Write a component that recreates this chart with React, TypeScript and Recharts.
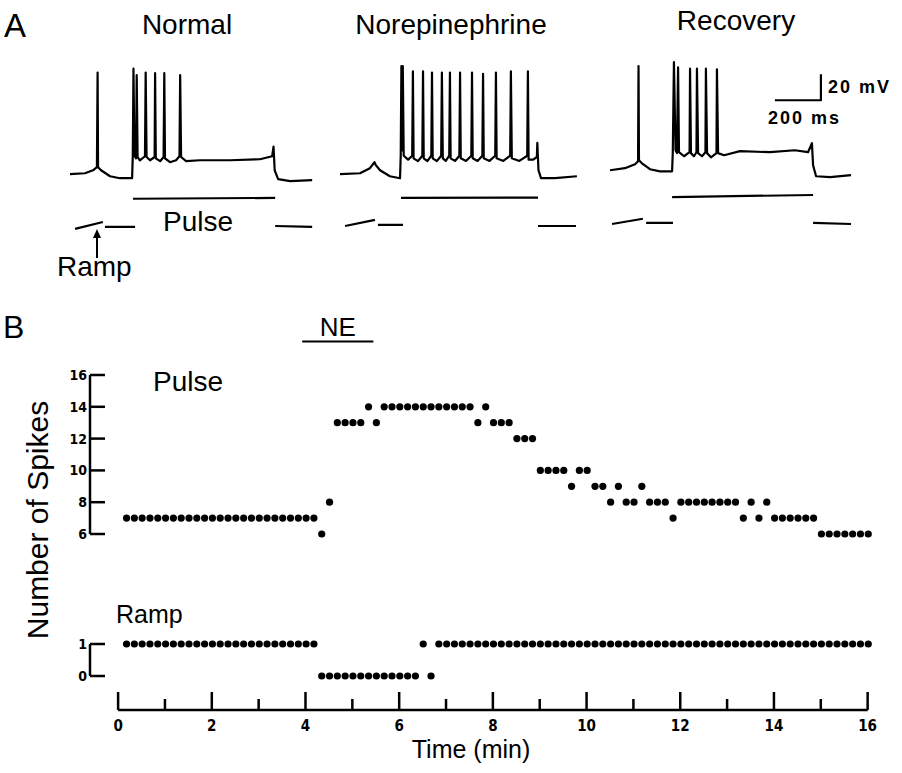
import React from 'react';
import { Line, LineChart, ReferenceLine, Scatter, ScatterChart, XAxis, YAxis } from 'recharts';

const SANS = "'Liberation Sans', Arial, Helvetica, sans-serif";
const NARROW = "'Liberation Sans Narrow', 'DejaVu Sans Condensed', 'Liberation Sans', sans-serif";

// ---- Panel A: intracellular records (t in ms, membrane potential in mV rel. rest, stimulus in nA)
type Pt = [number, number | null];

const normalVm: Pt[] = [
  [0, 0.8], [65, 1.5], [100, 3.8], [117, 6.2], [120, 79], [122, 6.2], [135, 3.8], [174, -0.8], [217, -2.3],
  [270, -2.3], [273, 15], [276, 82], [280, 15], [287, 13], [290, 77], [294, 14], [304, 11.5], [326, 14.6],
  [329, 79], [333, 14], [348, 11.5], [368, 14], [370, 78.5], [373, 13], [392, 10.8], [407, 14], [410, 78.5],
  [413, 13], [435, 10], [461, 11.5], [476, 14.6], [479, 77], [483, 14], [505, 10.8], [565, 11.5], [696, 11.5],
  [826, 12.3], [879, 14.6], [885, 22], [890, 3.8], [905, -3], [957, -4.6], [1053, -3.8],
];
const normalStim: Pt[] = [
  [22, -0.07], [143, 0.17], [148, null], [152, 0], [283, 0], [283, null],
  [274, 0.97], [892, 1.0], [892, null], [892, 0.03], [1053, 0],
];

const neVm: Pt[] = [
  [0, 0.8], [87, 1.5], [130, 5.4], [150, 10], [155, 8], [174, 3.8], [217, -0.8], [261, -2.3], [264, 15],
  [267, 84], [270, 19], [273, 84], [277, 15], [296, 12], [314, 15], [317, 80], [320, 13], [339, 10.8],
  [358, 15], [361, 80], [364, 13], [380, 10.8], [397, 15], [400, 79], [403, 13], [421, 10.8], [440, 15],
  [443, 79], [447, 13], [460, 11], [475, 15], [478, 79], [481, 13], [500, 11], [519, 15], [522, 79],
  [525, 13], [548, 11], [571, 15], [574, 79], [577, 13], [598, 11], [619, 15], [622, 78], [625, 13],
  [650, 11], [675, 15], [678, 79], [681, 13], [710, 11], [740, 15], [743, 80], [747, 13], [780, 11],
  [814, 15], [817, 80], [820, 12], [840, 12], [856, 14], [858, 25], [863, 3.8], [874, -2.3], [935, -2.3],
  [1030, -0.8],
];
const neStim: Pt[] = [
  [22, 0.03], [152, 0.24], [160, null], [165, 0.07], [274, 0.07], [274, null],
  [265, 1.0], [861, 1.01], [861, null], [861, 0.03], [1026, 0.03],
];

const recoveryVm: Pt[] = [
  [0, 3.8], [65, 5.4], [109, 8.5], [122, 10.8], [124, 84], [126, 11.5], [139, 9.2], [174, 4.6], [217, 3],
  [270, 3], [273, 17.7], [278, 87], [285, 19.2], [291, 17], [296, 83], [300, 17.7], [322, 14.6], [346, 17.7],
  [348, 82], [352, 17], [365, 14.6], [376, 17.7], [378, 82], [383, 17], [400, 14.6], [415, 17.7], [417, 82],
  [422, 17], [439, 13.8], [463, 17], [465, 81.5], [470, 17], [496, 15.4], [565, 18.5], [696, 17.7],
  [804, 19.2], [861, 17.7], [878, 24.6], [883, 7.7], [896, -0.8], [957, -1.5], [1048, 0],
];
const recoveryStim: Pt[] = [
  [9, 0.1], [143, 0.28], [150, null], [157, 0.14], [274, 0.14], [274, null],
  [270, 1.03], [883, 1.1], [883, null], [883, 0.14], [1048, 0.1],
];

// 200 ms / 20 mV calibration
const scaleBar: Pt[] = [[717, 57.7], [917, 57.7], [917, 77.7]];

const SWEEP_T_DOMAIN: [number, number] = [0, 1087];
const VM_DOMAIN: [number, number] = [-46, 92.5];
const STIM_DOMAIN: [number, number] = [-0.28, 5.93];

// ---- Panel B: spikes per 10-s sweep
const pulseSpikes = [
  7, 7, 7, 7, 7, 7, 7, 7, 7, 7, 7, 7, 7, 7, 7, 7, 7, 7, 7, 7, 7, 7, 7, 7, 7,
  6, 8, 13, 13, 13, 13, 14, 13, 14, 14, 14, 14, 14, 14, 14, 14, 14, 14, 14, 14,
  13, 14, 13, 13, 13, 12, 12, 12, 10, 10, 10, 10, 9, 10, 10, 9, 9, 8, 9, 8, 8, 9,
  8, 8, 8, 7, 8, 8, 8, 8, 8, 8, 8, 8, 7, 8, 7, 8, 7, 7, 7, 7, 7, 7,
  6, 6, 6, 6, 6, 6, 6,
];
const rampSpikes = [
  1, 1, 1, 1, 1, 1, 1, 1, 1, 1, 1, 1, 1, 1, 1, 1, 1, 1, 1, 1, 1, 1, 1, 1, 1,
  0, 0, 0, 0, 0, 0, 0, 0, 0, 0, 0, 0, 0, 1, 0,
  1, 1, 1, 1, 1, 1, 1, 1, 1, 1, 1, 1, 1, 1, 1, 1, 1, 1, 1, 1, 1, 1, 1, 1, 1, 1, 1, 1,
  1, 1, 1, 1, 1, 1, 1, 1, 1, 1, 1, 1, 1, 1, 1, 1, 1, 1, 1, 1, 1, 1, 1, 1, 1, 1, 1, 1,
];
const FIRST_SWEEP_MIN = 0.18;
const SWEEP_MIN = 1 / 6;

const pulseTicks = [6, 8, 10, 12, 14, 16];
const rampTicks = [0, 1];
const timeTicks = [0, 1, 2, 3, 4, 5, 6, 7, 8, 9, 10, 11, 12, 13, 14, 15, 16];
const neWindow: [number, number] = [3.93, 5.45];
const NE_LEVEL = 18.1;

const X_DOMAIN: [number, number] = [-0.6, 16.2];
const RAMP_DOMAIN: [number, number] = [-1.0625, 1];

const pulseRows = pulseSpikes.map((count, i) => ({ time: FIRST_SWEEP_MIN + i * SWEEP_MIN, count }));
const rampRows = rampSpikes.map((count, i) => ({ time: FIRST_SWEEP_MIN + i * SWEEP_MIN, count }));

const toRows = (pts: Pt[]) => pts.map(([t, v]) => ({ t, v }));

function Txt({ left, top, size, children, center, weight, style }: any) {
  return (
    <div
      style={{
        position: 'absolute',
        left,
        top,
        fontSize: size,
        lineHeight: 1,
        whiteSpace: 'nowrap',
        fontWeight: weight ?? 'normal',
        transform: center ? 'translateX(-50%)' : undefined,
        ...style,
      }}
    >
      {children}
    </div>
  );
}

function Sweep({ left, vm, stim, extra }: { left: number; vm: Pt[]; stim: Pt[]; extra?: Pt[] }) {
  const lineProps = {
    type: 'linear' as const,
    dataKey: 'v',
    stroke: '#000',
    dot: false,
    activeDot: false,
    isAnimationActive: false,
    connectNulls: false,
    strokeLinejoin: 'round' as const,
  };
  return (
    <div style={{ position: 'absolute', left, top: 50 }}>
      <LineChart width={250} height={240} margin={{ top: 5, right: 0, bottom: 55, left: 0 }}>
        <XAxis type="number" dataKey="t" domain={SWEEP_T_DOMAIN} hide />
        <YAxis yAxisId="v" type="number" domain={VM_DOMAIN} hide />
        <YAxis yAxisId="i" type="number" domain={STIM_DOMAIN} hide />
        <Line {...lineProps} yAxisId="v" data={toRows(vm)} strokeWidth={2.2} />
        <Line {...lineProps} yAxisId="i" data={toRows(stim)} strokeWidth={2.2} />
        {extra && <Line {...lineProps} yAxisId="v" data={toRows(extra)} strokeWidth={2.2} />}
      </LineChart>
    </div>
  );
}

const PulseTick = ({ x, y, payload }: any) => (
  <g>
    <line x1={x} x2={x + 15} y1={y} y2={y} stroke="#000" strokeWidth={2.5} />
    <text x={x - 3} y={y + 5} textAnchor="end" fontSize={14} fontWeight="bold" fontFamily={NARROW} fill="#000">
      {payload.value}
    </text>
  </g>
);

const TimeTick = ({ x, y, payload }: any) => {
  const major = payload.value % 2 === 0;
  return (
    <g>
      <line x1={x} x2={x} y1={y} y2={y - (major ? 18 : 11)} stroke="#000" strokeWidth={2.5} />
      {major && (
        <text x={x} y={y + 21} textAnchor="middle" fontSize={15} fontWeight="bold" fontFamily={NARROW} fill="#000">
          {payload.value}
        </text>
      )}
    </g>
  );
};

const Dot = (props: any) => <circle cx={props.cx} cy={props.cy} r={3.6} fill="#000" />;

export default function App() {
  return (
    <div
      style={{
        position: 'absolute',
        left: 0,
        top: 0,
        width: 902,
        height: 773,
        background: '#fff',
        color: '#000',
        fontFamily: SANS,
        overflow: 'hidden',
      }}
    >
      {/* Panel A */}
      <Txt left={4} top={9} size={33}>A</Txt>
      <Txt left={187} top={11} size={28} center>Normal</Txt>
      <Txt left={451} top={11} size={28} center>Norepinephrine</Txt>
      <Txt left={736} top={7} size={28} center>Recovery</Txt>

      <Sweep left={70} vm={normalVm} stim={normalStim} />
      <Sweep left={340} vm={neVm} stim={neStim} />
      <Sweep left={610} vm={recoveryVm} stim={recoveryStim} extra={scaleBar} />

      <Txt left={828} top={78} size={18} weight="bold" style={{ letterSpacing: 2 }}>20 mV</Txt>
      <Txt left={768} top={109} size={18} weight="bold" style={{ letterSpacing: 2 }}>200 ms</Txt>

      <Txt left={163} top={208} size={28}>Pulse</Txt>
      <Txt left={57} top={253} size={28}>Ramp</Txt>
      <div style={{ position: 'absolute', left: 96, top: 237, width: 2, height: 21, background: '#000' }} />
      <div
        style={{
          position: 'absolute',
          left: 93,
          top: 229,
          width: 0,
          height: 0,
          borderLeft: '4px solid transparent',
          borderRight: '4px solid transparent',
          borderBottom: '9px solid #000',
        }}
      />

      {/* Panel B */}
      <Txt left={3} top={311} size={32}>B</Txt>
      <div
        style={{
          position: 'absolute',
          left: 38,
          top: 520,
          fontSize: 30,
          lineHeight: 1,
          whiteSpace: 'nowrap',
          transform: 'translate(-50%, -50%) rotate(-90deg)',
        }}
      >
        Number of Spikes
      </div>

      <div style={{ position: 'absolute', left: 0, top: 300 }}>
        <ScatterChart width={890} height={250} margin={{ top: 75, right: 13, bottom: 16, left: 40 }}>
          <XAxis type="number" dataKey="time" domain={X_DOMAIN} hide />
          <YAxis
            type="number"
            dataKey="count"
            domain={[6, 16]}
            ticks={pulseTicks}
            interval={0}
            width={50}
            tickSize={0}
            tickMargin={0}
            tickLine={false}
            axisLine={{ stroke: '#000', strokeWidth: 2.5 }}
            tick={<PulseTick />}
          />
          <ReferenceLine
            segment={[
              { x: neWindow[0], y: NE_LEVEL },
              { x: neWindow[1], y: NE_LEVEL },
            ]}
            stroke="#000"
            strokeWidth={2}
            ifOverflow="visible"
            label={{ value: 'NE', position: 'top', fontSize: 26, fill: '#000', fontFamily: SANS, offset: 6 }}
          />
          <Scatter data={pulseRows} shape={<Dot />} isAnimationActive={false} />
        </ScatterChart>
      </div>
      <Txt left={153} top={368} size={28}>Pulse</Txt>

      <div style={{ position: 'absolute', left: 0, top: 620 }}>
        <ScatterChart width={890} height={130} margin={{ top: 24, right: 13, bottom: 10, left: 40 }}>
          <XAxis
            type="number"
            dataKey="time"
            domain={X_DOMAIN}
            ticks={timeTicks}
            interval={0}
            height={30}
            tickSize={0}
            tickMargin={0}
            tickLine={false}
            axisLine={false}
            tick={<TimeTick />}
          />
          <YAxis
            type="number"
            dataKey="count"
            domain={RAMP_DOMAIN}
            ticks={rampTicks}
            interval={0}
            width={50}
            tickSize={0}
            tickMargin={0}
            tickLine={false}
            axisLine={false}
            tick={<PulseTick />}
          />
          <ReferenceLine
            segment={[
              { x: X_DOMAIN[0], y: 0 },
              { x: X_DOMAIN[0], y: 1 },
            ]}
            stroke="#000"
            strokeWidth={2.5}
            ifOverflow="visible"
          />
          <ReferenceLine
            segment={[
              { x: 0, y: RAMP_DOMAIN[0] },
              { x: 16, y: RAMP_DOMAIN[0] },
            ]}
            stroke="#000"
            strokeWidth={2.5}
            ifOverflow="visible"
          />
          <Scatter data={rampRows} shape={<Dot />} isAnimationActive={false} />
        </ScatterChart>
      </div>
      <Txt left={116} top={602} size={25}>Ramp</Txt>

      <Txt left={471} top={737} size={25} center>Time (min)</Txt>
    </div>
  );
}
